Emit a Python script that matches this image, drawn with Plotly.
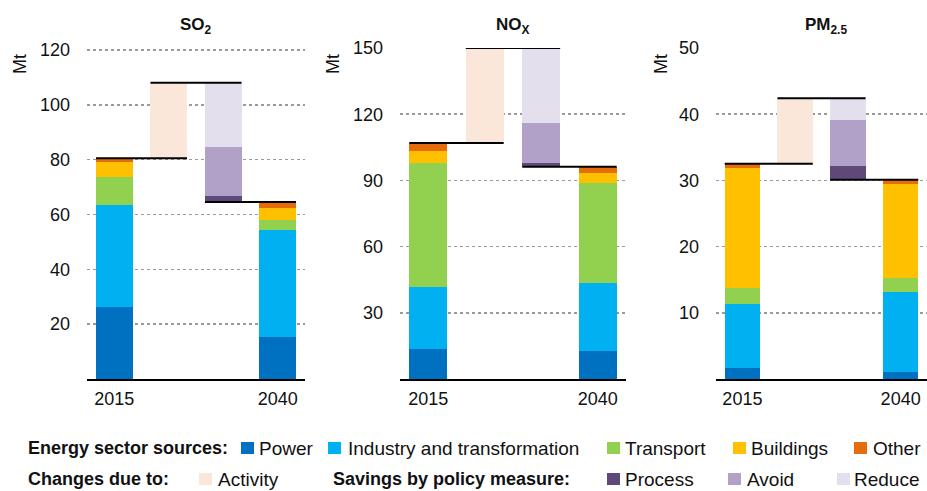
import plotly.graph_objects as go

W, H = 927, 491
FONT = "Liberation Sans, Arial, sans-serif"

# ---------------- data ----------------
panel_titles = ["<b>SO<sub>2</sub></b>", "<b>NO<sub>X</sub></b>", "<b>PM<sub>2.5</sub></b>"]
year_positions = [0, 3]
year_labels = ["2015", "2040"]

sectors = ["Power", "Industry and transformation", "Transport", "Buildings", "Other"]
sector_colors = ["#0070C0", "#00B0F0", "#92D050", "#FFC000", "#E46C0A"]

# sector values (Mt) in 2015 and 2040, one list per pollutant
so2_2015 = [26.3, 37.0, 10.2, 5.5, 1.5]
so2_2040 = [15.4, 39.1, 3.6, 4.4, 2.0]
nox_2015 = [13.6, 28.1, 56.2, 5.4, 3.7]
nox_2040 = [12.7, 30.8, 45.3, 4.5, 2.9]
pm_2015 = [1.7, 9.6, 2.5, 18.1, 0.6]
pm_2040 = [1.1, 12.0, 2.2, 14.2, 0.6]

# changes due to activity and savings by policy measure (SO2, NOx, PM2.5)
activity = [27.5, 43.0, 9.9]
process = [2.4, 1.7, 2.1]
avoid = [17.7, 18.1, 6.9]
reduce_ = [23.4, 34.0, 3.3]

activity_color = "#FBE7D9"
process_color = "#5F497A"
avoid_color = "#B1A0C7"
reduce_color = "#E4DFEC"

y_ticks = [[20, 40, 60, 80, 100, 120], [30, 60, 90, 120, 150], [10, 20, 30, 40, 50]]
y_max = [120.7, 150, 50]

# ---------------- layout geometry (pixels) ----------------
x_dom_px = [(87, 305), (400, 626), (716, 927)]
y_bot_px, y_top_px = 379, 48
title_x_px = [196, 513, 826]
mt_x_px = [20, 333, 661]
BW = 0.67

data_2015 = [so2_2015, nox_2015, pm_2015]
data_2040 = [so2_2040, nox_2040, pm_2040]

fig = go.Figure()
layout_axes = {}


def cumbase(vals):
    out, s = [], 0.0
    for v in vals:
        out.append(s)
        s += v
    return out, s


for p in range(3):
    xa = "x" if p == 0 else f"x{p + 1}"
    ya = "y" if p == 0 else f"y{p + 1}"
    b15, t15 = cumbase(data_2015[p])
    b40, t40 = cumbase(data_2040[p])
    for i, name in enumerate(sectors):
        fig.add_trace(go.Bar(
            x=[0, 3], y=[data_2015[p][i], data_2040[p][i]], base=[b15[i], b40[i]],
            width=BW, marker=dict(color=sector_colors[i], line=dict(width=0)),
            name=name, showlegend=False, xaxis=xa, yaxis=ya))
    # activity
    fig.add_trace(go.Bar(x=[1], y=[activity[p]], base=[t15], width=BW,
                         marker=dict(color=activity_color, line=dict(width=0)),
                         showlegend=False, xaxis=xa, yaxis=ya))
    peak = t15 + activity[p]
    sav_vals = [process[p], avoid[p], reduce_[p]]
    sav_cols = [process_color, avoid_color, reduce_color]
    sb, _ = cumbase(sav_vals)
    for v, c, b in zip(sav_vals, sav_cols, sb):
        fig.add_trace(go.Bar(x=[2], y=[v], base=[t40 + b], width=BW,
                             marker=dict(color=c, line=dict(width=0)),
                             showlegend=False, xaxis=xa, yaxis=ya))
    # connector lines
    for xs, yv in [((0 - BW / 2, 1 + BW / 2), t15),
                   ((1 - BW / 2, 2 + BW / 2), peak),
                   ((2 - BW / 2, 3 + BW / 2), t40)]:
        fig.add_trace(go.Scatter(x=list(xs), y=[yv, yv], mode="lines",
                                 line=dict(color="black", width=2),
                                 showlegend=False, hoverinfo="skip",
                                 xaxis=xa, yaxis=ya))

    x0, x1 = x_dom_px[p]
    layout_axes["xaxis" if p == 0 else f"xaxis{p + 1}"] = dict(
        domain=[x0 / W, x1 / W], range=[-0.5, 3.5], anchor=ya,
        tickvals=year_positions, ticktext=year_labels, showgrid=False,
        showline=True, linecolor="black", linewidth=2, zeroline=False,
        ticks="", tickfont=dict(family=FONT, size=18, color="#111"),
        ticklabelstandoff=2, fixedrange=True)
    layout_axes["yaxis" if p == 0 else f"yaxis{p + 1}"] = dict(
        domain=[1 - y_bot_px / H, 1 - y_top_px / H], range=[0, y_max[p]],
        anchor=xa, tickvals=y_ticks[p], showgrid=True, gridcolor="#9a9a9a",
        gridwidth=1.5, griddash="dot", zeroline=False, showline=False,
        ticks="", tickfont=dict(family=FONT, size=18, color="#111"),
        ticklabelstandoff=16, fixedrange=True)

annotations = []
for p in range(3):
    annotations.append(dict(text=panel_titles[p], x=title_x_px[p] / W, y=1 - 26 / H,
                            xref="paper", yref="paper", xanchor="center", yanchor="middle",
                            showarrow=False, font=dict(family=FONT, size=17, color="#111")))
    annotations.append(dict(text="Mt", x=mt_x_px[p] / W, y=1 - 64 / H, textangle=-90,
                            xref="paper", yref="paper", xanchor="center", yanchor="middle",
                            showarrow=False, font=dict(family=FONT, size=18, color="#111")))

# ---------------- custom legend ----------------
row1, row2 = 448, 479
legend_items = [
    # (square left px, text left px, row y, label, color)
    (241, 257, row1, sectors[0], sector_colors[0]),
    (328, 346, row1, sectors[1], sector_colors[1]),
    (607, 623, row1, sectors[2], sector_colors[2]),
    (733, 749, row1, sectors[3], sector_colors[3]),
    (854, 871, row1, sectors[4], sector_colors[4]),
    (199, 216, row2, "Activity", activity_color),
    (607, 623, row2, "Process", process_color),
    (728, 745, row2, "Avoid", avoid_color),
    (837, 852, row2, "Reduce", reduce_color),
]
shapes = []
for sq, tx, ry, label, col in legend_items:
    shapes.append(dict(type="rect", xref="paper", yref="paper",
                       x0=sq / W, x1=(sq + 13) / W, y0=1 - (ry + 6) / H, y1=1 - (ry - 6) / H,
                       fillcolor=col, line=dict(width=0)))
    annotations.append(dict(text=label, x=tx / W, y=1 - ry / H, xref="paper", yref="paper",
                            xanchor="left", yanchor="middle", showarrow=False,
                            font=dict(family=FONT, size=19, color="#111")))
for tx, ry, label in [(26, row1, "Energy sector sources:"), (26, row2, "Changes due to:"),
                      (331, row2, "Savings by policy measure:")]:
    annotations.append(dict(text=f"<b>{label}</b>", x=tx / W, y=1 - ry / H, xref="paper",
                            yref="paper", xanchor="left", yanchor="middle", showarrow=False,
                            font=dict(family=FONT, size=18, color="#111")))

fig.update_layout(
    width=W, height=H, margin=dict(l=0, r=0, t=0, b=0, autoexpand=False),
    paper_bgcolor="white", plot_bgcolor="white", barmode="overlay",
    bargap=0, showlegend=False, annotations=annotations, shapes=shapes,
    font=dict(family=FONT, size=18, color="#111"),
    **layout_axes)

fig.write_html(
    "out.html",
    config={"displayModeBar": False, "staticPlot": True},
    post_script="document.body.style.margin='0';document.body.style.overflow='hidden';",
)
